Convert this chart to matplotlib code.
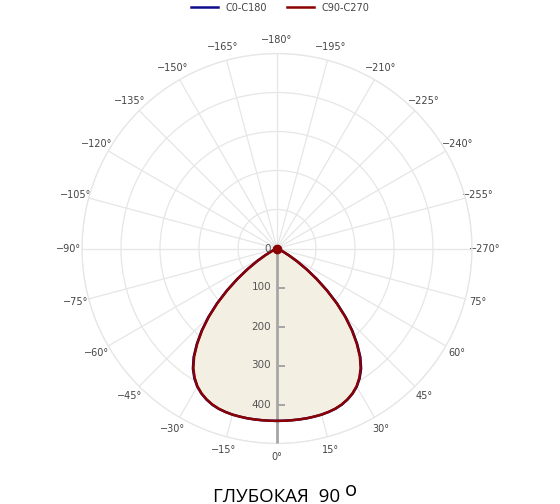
import numpy as np
import matplotlib
matplotlib.use("Agg")
import matplotlib.pyplot as plt
from matplotlib.transforms import offset_copy

# ---- data ----
# half profiles, gamma 0..90 deg (the C planes are symmetric about the nadir)
gamma_half = [0, 2.5, 5, 7.5, 10, 12.5, 15, 17.5, 20, 22.5, 25, 27.5, 30, 32.5, 35, 37.5,
              40, 42.5, 45, 47.5, 50, 52.5, 55, 57.5, 60, 62.5, 65, 67.5, 70, 75, 80, 85, 90]
c0_c180_half = [442, 442, 442, 442, 442, 441.5, 441, 439.5, 437.5, 433.5, 427.5, 419.5, 409,
                394.5, 376, 351, 320, 286, 249, 209, 168, 128, 92, 61, 36, 19, 8, 3, 1, 0, 0, 0, 0]
c90_c270_half = [442, 442, 442, 442, 442, 441.5, 441, 439.5, 437, 433, 427, 419, 408,
                 393, 374, 349, 318, 284, 247, 207, 166, 127, 91, 60, 35, 18, 8, 3, 1, 0, 0, 0, 0]
series_names = ["C0-C180", "C90-C270"]
series_colors = ["#0c0c8c", "#8b0000"]
r_ticks = [0, 100, 200, 300, 400]
r_max = 500
theta_ticks = list(range(0, 360, 15))
theta_labels = [("\u2212%d°" % t if t > 0 else "0°") if t <= 270 else "%d°" % (360 - t)
                for t in theta_ticks]
title_main = "ГЛУБОКАЯ  90"
title_sup = "o"

# full curves over -90..90 built from the half profiles
gamma = [-g for g in gamma_half[::-1]] + gamma_half[1:]
c0_c180 = c0_c180_half[::-1] + c0_c180_half[1:]
c90_c270 = c90_c270_half[::-1] + c90_c270_half[1:]

W, H = 560, 504
fig = plt.figure(figsize=(W / 100, H / 100), dpi=100)
cx, cy, R = 277, 248.5, 195.0
ax = fig.add_axes([(cx - R) / W, (H - cy - R) / H, 2 * R / W, 2 * R / H], projection="polar")
ax.set_theta_zero_location("S")
ax.set_theta_direction(-1)
ax.set_ylim(0, r_max)

grid_c = "#e6e6e6"
ax.set_thetagrids(theta_ticks, theta_labels)
ax.set_yticks([100, 200, 300, 400, 500])
ax.set_yticklabels([])
ax.grid(True, color=grid_c, lw=0.9)
ax.spines["polar"].set_color(grid_c)
ax.spines["polar"].set_linewidth(0.9)
ax.tick_params(axis="x", labelsize=7, colors="#444444", pad=2.5, length=0)
ax.set_facecolor("white")

th = np.deg2rad(gamma)
ax.fill(th, c0_c180, color="#f3f0e3", zorder=2)
ax.fill(th, c90_c270, color="#f3f0e3", zorder=2)

# radial axis line with ticks
ax.plot([0, 0], [0, r_max], color="#a6a6a6", lw=2, zorder=3, solid_capstyle="butt")
ax.plot(np.zeros(len(r_ticks) - 1), r_ticks[1:], ls="", marker=1, markersize=6,
        markeredgewidth=1.2, color="#a6a6a6", zorder=3)
tr = offset_copy(ax.transData, fig=fig, x=-6, y=0, units="dots")
for r in r_ticks:
    ax.text(0, r, str(r), transform=tr, ha="right", va="center", fontsize=7.5,
            color="#555555", zorder=6)

lines = []
for vals, name, col in zip([c0_c180, c90_c270], series_names, series_colors):
    ln, = ax.plot(th, vals, color=col, lw=1.8, label=name, zorder=4,
                  solid_joinstyle="round")
    lines.append(ln)
ax.plot([0], [0], marker="o", markersize=6, color=series_colors[1], zorder=5)

fig.legend(handles=lines, labels=series_names, loc="upper center", bbox_to_anchor=(0.5, 1.012),
           ncol=2, frameon=False, fontsize=7, handlelength=2.8, columnspacing=2.0,
           labelcolor="#444444")

fig.text(212.7 / W, 2.5 / H, title_main, ha="left", va="baseline", fontsize=13.5,
         family="Open Sans", color="black")
fig.text(344.5 / W, (H - 496) / H, title_sup, ha="left", va="baseline", fontsize=14.5,
         family="Open Sans", color="black")

fig.savefig("out.png", dpi=100)
